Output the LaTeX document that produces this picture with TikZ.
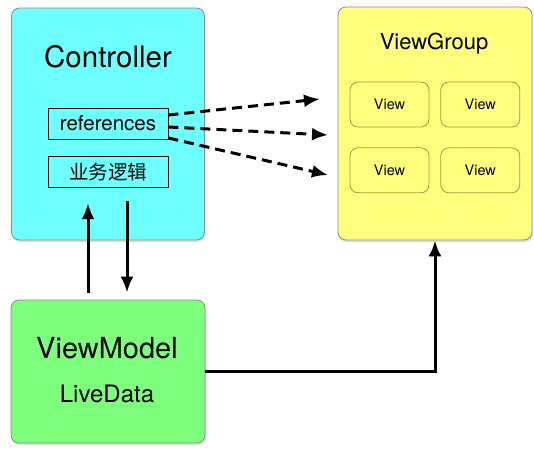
\documentclass[tikz,border=0pt]{standalone}
\usepackage{fontspec}
\setmainfont{TeX Gyre Heros}
\newfontfamily\cjk{Noto Sans CJK SC}
\usepackage{tikz}
\usetikzlibrary{arrows.meta, positioning, fit, shapes, shadows}
\usepackage{xcolor}
\definecolor{ctrlcyan}{RGB}{110,255,255}
\definecolor{vmgreen}{RGB}{125,255,125}
\definecolor{vgyellow}{RGB}{255,255,125}
\definecolor{viewline}{RGB}{170,150,70}

\begin{document}
\begin{tikzpicture}[x=1pt, y=-1pt,
        bigbox/.style={draw=black!45, line width=0.8pt, rounded corners=8pt,
            drop shadow={shadow xshift=1pt, shadow yshift=-2pt, opacity=0.25}},
        innerbox/.style={draw=black, line width=0.8pt, minimum width=120pt, minimum height=31pt,
            font=\fontsize{20.5}{22}\selectfont},
        viewbox/.style={draw=viewline, line width=0.8pt, rounded corners=8pt, fill=vgyellow,
            minimum width=79pt, minimum height=45pt, font=\fontsize{14.5}{16}\selectfont},
        arr/.style={line width=3pt, -{Latex[length=16pt, width=13pt]}},
        dasharr/.style={arr, dash pattern=on 10pt off 6pt}
    ]
    \useasboundingbox (0,0) rectangle (534,467);
    % 三个大方框
    \node[bigbox, fill=ctrlcyan, minimum width=193pt, minimum height=232pt] (ctrl) at (108,124) {};
    \node[bigbox, fill=vgyellow, minimum width=194pt, minimum height=233pt] (vg) at (435,123.5) {};
    \node[bigbox, fill=vmgreen, minimum width=194pt, minimum height=143pt] (vm) at (108,371.5) {};
    % Controller 内部
    \node[font=\fontsize{29.5}{32}\selectfont] (ctrltitle) at (108,57) {Controller};
    \node[innerbox, fill=ctrlcyan] (refs) at (108,123.5) {references};
    \node[innerbox, fill=ctrlcyan, below=17pt of refs, font=\cjk\fontsize{19.5}{22}\selectfont] (logic) {业务逻辑};
    % ViewGroup 内部
    \node[font=\fontsize{22}{26}\selectfont] (vgtitle) at (434,44) {ViewGroup};
    \node[viewbox] (v11) at (389.5,104.5) {View};
    \node[viewbox, right=11pt of v11] (v12) {View};
    \node[viewbox, below=20pt of v11] (v21) {View};
    \node[viewbox, right=11pt of v21] (v22) {View};
    % ViewModel 内部
    \node[font=\fontsize{29}{32}\selectfont] (vmtitle) at (107,348) {ViewModel};
    \node[font=\fontsize{24}{26}\selectfont] (livedata) at (107,394) {LiveData};
    % 连线
    \coordinate (t1) at (320,99);
    \coordinate (t2) at (328,135);
    \coordinate (t3) at (328,175);
    \draw[dasharr] ([yshift=8.5pt]refs.east) -- (t1);
    \draw[dasharr] ([yshift=-3.5pt]refs.east) -- (t2);
    \draw[dasharr] ([yshift=-14.5pt]refs.east) -- (t3);
    \draw[arr, shorten <=7pt, shorten >=15pt] ([xshift=-20pt]vm.north) -- ([xshift=-20pt]logic.south);
    \draw[arr, shorten <=13pt, shorten >=7pt] ([xshift=19pt]logic.south) -- ([xshift=19pt]vm.north);
    \draw[arr] (vm.east) -| (vg.south);
\end{tikzpicture}
\end{document}
